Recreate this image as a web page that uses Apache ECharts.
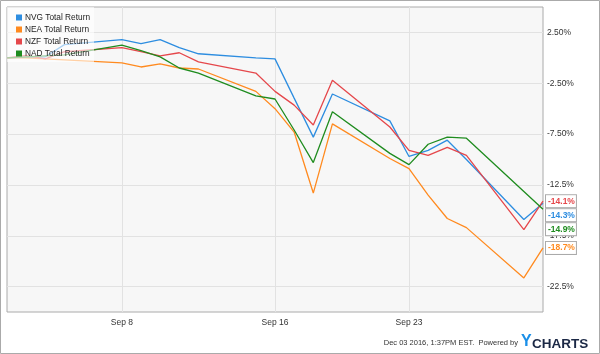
<!DOCTYPE html>
<html>
<head>
<meta charset="utf-8">
<script src="https://cdn.jsdelivr.net/npm/echarts@6/dist/echarts.min.js"></script>
<style>
  html, body { margin: 0; padding: 0; background: #fff; }
  #chart { width: 600px; height: 354px; }
</style>
</head>
<body>
<div id="chart"></div>
<script>
// calendar days on the axis (weekends have no points)
const days = ['Sep 2', 'Sep 3', 'Sep 4', 'Sep 5', 'Sep 6', 'Sep 7', 'Sep 8', 'Sep 9', 'Sep 10',
  'Sep 11', 'Sep 12', 'Sep 13', 'Sep 14', 'Sep 15', 'Sep 16', 'Sep 17', 'Sep 18', 'Sep 19',
  'Sep 20', 'Sep 21', 'Sep 22', 'Sep 23', 'Sep 24', 'Sep 25', 'Sep 26', 'Sep 27', 'Sep 28',
  'Sep 29', 'Sep 30']
const xTickLabels = ['Sep 8', 'Sep 16', 'Sep 23']

const yTickValues = [2.5, -2.5, -7.5, -12.5, -17.5, -22.5]
const yTickLabels = ['2.50%', '-2.50%', '-7.50%', '-12.5%', '-17.5%', '-22.5%']

const seriesNames = ['NVG Total Return', 'NEA Total Return', 'NZF Total Return', 'NAD Total Return']
const seriesColors = ['#2d8de0', '#ff8a1f', '#e5474b', '#1f8c1f']

const nvg = [0, 0.05, 0.1, 1.3, null, null, 1.8, 1.4, 1.8, 1.0, 0.4, null, null, 0.0, -0.1,
  -3.96, -7.8, -3.56, null, null, -6.2, -9.7, -9.1, -8.1, -10.0, null, null, -15.9, -14.3]
const nea = [0, 0.0, -0.1, -0.2, null, null, -0.5, -0.9, -0.6, -1.0, -1.1, null, null, -3.3, -5.0,
  -7.3, -13.3, -6.5, null, null, -9.9, -10.9, -13.5, -15.8, -16.7, null, null, -21.65, -18.7]
const nzf = [0, 0.25, -0.1, 0.6, null, null, 1.0, 0.6, 0.2, 0.5, -0.4, null, null, -1.5, -3.3,
  -4.65, -6.6, -2.2, null, null, -6.8, -9.1, -9.6, -8.8, -9.6, null, null, -16.9, -14.1]
const nad = [0, 0.1, 0.2, 0.3, null, null, 1.25, 0.7, 0.1, -1.0, -1.5, null, null, -3.75, -4.05,
  -7.1, -10.3, -5.3, null, null, -9.4, -10.5, -8.5, -7.8, -7.9, null, null, -13.15, -14.9]

const seriesData = [nvg, nea, nzf, nad]

const chart = echarts.init(document.getElementById('chart'))
const fontFamily = '"Liberation Sans", Arial, sans-serif'
const showDay = (index, value) => xTickLabels.indexOf(value) !== -1

const option = {
  animation: false,
  color: seriesColors,
  textStyle: { fontFamily: fontFamily },
  grid: {
    left: 7,
    right: 57,
    top: 7,
    bottom: 42,
    show: true,
    backgroundColor: '#f7f7f7',
    borderColor: '#aaa',
    borderWidth: 1,
  },
  legend: {
    orient: 'vertical',
    left: 7,
    top: 7,
    padding: [5, 4, 3, 9],
    itemWidth: 6,
    itemHeight: 6,
    itemGap: 1,
    icon: 'rect',
    backgroundColor: 'rgba(255,255,255,0.6)',
    textStyle: { fontSize: 8.3, color: '#222', lineHeight: 11, padding: [0, 0, 0, -2] },
    data: seriesNames,
  },
  xAxis: {
    type: 'category',
    data: days,
    boundaryGap: false,
    axisLine: { show: false },
    axisTick: { show: false },
    axisLabel: { interval: showDay, fontSize: 8.5, color: '#333', margin: 6 },
    splitLine: { show: true, interval: showDay, lineStyle: { color: '#e2e2e2' } },
  },
  yAxis: {
    type: 'value',
    position: 'right',
    min: -25,
    max: 5,
    interval: 2.5,
    axisLine: { show: false },
    axisTick: { show: false },
    axisLabel: {
      fontSize: 8.5,
      color: '#333',
      margin: 4,
      formatter: function (v) {
        const i = yTickValues.indexOf(v)
        return i === -1 ? '' : yTickLabels[i]
      },
    },
    splitLine: { lineStyle: { color: ['transparent', '#e2e2e2'] } },
  },
  series: seriesNames.map((name, i) => ({
    name: name,
    type: 'line',
    data: seriesData[i],
    connectNulls: true,
    showSymbol: false,
    symbol: 'none',
    lineStyle: { width: 1.3 },
    endLabel: {
      show: true,
      distance: 3,
      formatter: (p) => p.value.toFixed(1) + '%',
      color: seriesColors[i],
      fontWeight: 'bold',
      fontSize: 8.5,
      backgroundColor: '#fff',
      borderColor: '#aaa',
      borderWidth: 1,
      padding: [2, 1, 1, 2],
    },
    labelLayout: { moveOverlap: 'shiftY' },
  })),
  graphic: [
    {
      type: 'rect',
      shape: { x: 0.5, y: 0.5, width: 599, height: 353 },
      style: { fill: 'none', stroke: '#aaa', lineWidth: 1 },
      silent: true,
    },
    {
      type: 'text',
      right: 82,
      top: 339,
      style: { text: 'Dec 03 2016, 1:37PM EST.  Powered by', font: '7.5px ' + fontFamily, fill: '#333' },
    },
    {
      type: 'text',
      left: 521,
      top: 334,
      style: { text: 'Y', font: 'bold 16px ' + fontFamily, fill: '#1a8fe8' },
    },
    {
      type: 'text',
      left: 532,
      top: 337,
      style: { text: 'CHARTS', font: 'bold 13.5px ' + fontFamily, fill: '#1b2845' },
    },
  ],
}

chart.setOption(option)
window.onresize = () => chart.resize()
</script>
</body>
</html>
